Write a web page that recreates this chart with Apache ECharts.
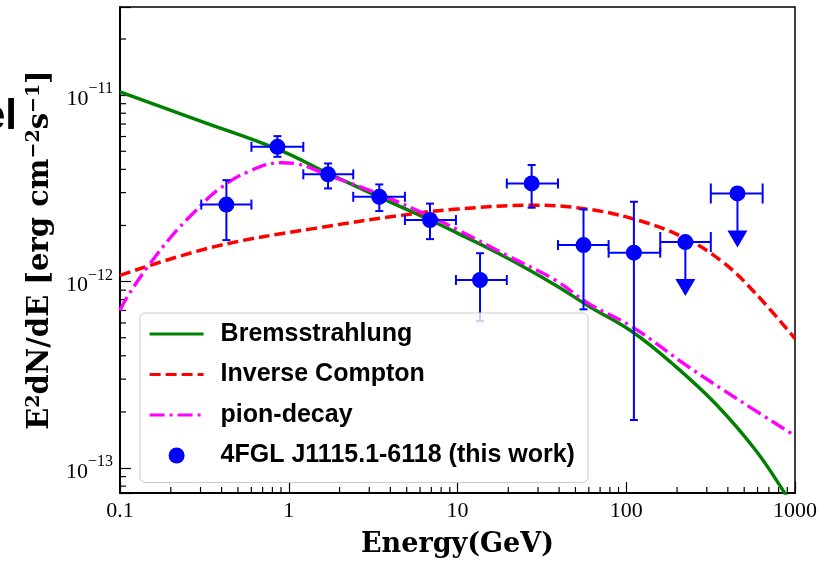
<!DOCTYPE html>
<html>
<head>
<meta charset="utf-8">
<script src="https://cdn.jsdelivr.net/npm/echarts@6/dist/echarts.min.js"></script>
<style>
  html, body { margin: 0; padding: 0; background: #fff; }
  #chart { width: 836px; height: 564px; }
</style>
</head>
<body>
<div id="chart"></div>
<script>
// Fermi-LAT points (GeV, erg cm^-2 s^-1)
var energy = [0.427, 0.857, 1.71, 3.44, 6.87, 13.6, 27.5, 55.8, 111, 224, 456];
var flux = [2.59e-12, 5.28e-12, 3.76e-12, 2.85e-12, 2.14e-12, 1.02e-12, 3.36e-12, 1.57e-12, 1.43e-12, 1.63e-12, 2.97e-12];
var fluxLo = [1.67e-12, 4.67e-12, 3.16e-12, 2.39e-12, 1.69e-12, 6.14e-13, 2.49e-12, 7.10e-13, 1.81e-13, null, null];
var fluxHi = [3.50e-12, 6.03e-12, 4.30e-12, 3.32e-12, 2.62e-12, 1.42e-12, 4.22e-12, 2.44e-12, 2.68e-12, null, null];
var binLo = [0.303, 0.601, 1.22, 2.41, 4.88, 9.79, 19.6, 39.4, 78.6, 159, 317];
var binHi = [0.601, 1.22, 2.41, 4.88, 9.79, 19.6, 39.4, 78.6, 159, 317, 643];
var upperLimit = [0, 0, 0, 0, 0, 0, 0, 0, 0, 1, 1];

// model curves
var bremsE = [0.1, 0.3, 0.864, 1.71, 3.47, 6.87, 10, 19.1, 37.9, 59.7, 108, 187, 337, 583, 859, 1000];
var bremsF = [1.04e-11, 7.26e-12, 5.12e-12, 3.81e-12, 2.83e-12, 2.14e-12, 1.82e-12, 1.36e-12, 9.6e-13, 7.4e-13, 5.4e-13, 3.64e-13, 2.22e-13, 1.25e-13, 7.46e-14, 5.9e-14];
var icE = [0.1, 0.364, 1.43, 5.60, 10, 27.5, 54.6, 108, 214, 370, 583, 1000];
var icF = [1.08e-12, 1.54e-12, 1.93e-12, 2.32e-12, 2.45e-12, 2.57e-12, 2.47e-12, 2.18e-12, 1.74e-12, 1.28e-12, 8.65e-13, 4.95e-13];
var pionE = [0.1, 0.109, 0.146, 0.201, 0.277, 0.380, 0.573, 0.905, 1.085, 1.71, 3.55, 7.03, 10, 19.1, 37.9, 59.7, 108, 234, 464, 1000];
var pionF = [7.0e-13, 8.13e-13, 1.20e-12, 1.74e-12, 2.37e-12, 3.10e-12, 3.88e-12, 4.34e-12, 4.30e-12, 3.72e-12, 2.91e-12, 2.22e-12, 1.90e-12, 1.40e-12, 1.02e-12, 7.64e-13, 5.73e-13, 3.49e-13, 2.32e-13, 1.49e-13];

// axes
var xMin = 0.1, xMax = 1000;
var yMin = 7.35e-14, yMax = 2.97e-11;
var minorMult = [2, 3, 4, 5, 6, 7, 8, 9];
var xDecades = [0.1, 1, 10, 100];
var yDecades = [1e-14, 1e-13, 1e-12, 1e-11];

var BLUE = '#0000ff';
var SERIF = '"Liberation Serif", "DejaVu Serif", serif';
var SERIF_B = '"DejaVu Serif", serif';
var SANS = '"Liberation Sans", Arial, sans-serif';

function zip(a, b) { return a.map(function (v, i) { return [v, b[i]]; }); }

var minorTicks = [];
xDecades.forEach(function (d) { minorMult.forEach(function (m) { minorTicks.push([d * m, 0]); }); });
yDecades.forEach(function (d) {
  minorMult.forEach(function (m) {
    var v = d * m;
    if (v > yMin && v < yMax) minorTicks.push([v, 1]);
  });
});

var pointData = energy.map(function (e, i) {
  return [e, flux[i], binLo[i], binHi[i], fluxLo[i], fluxHi[i], upperLimit[i]];
});

function renderErrors(params, api) {
  var x = api.value(0), y = api.value(1);
  var c = api.coord([x, y]);
  var pl = api.coord([api.value(2), y]);
  var pr = api.coord([api.value(3), y]);
  var st = { stroke: BLUE, lineWidth: 2 };
  var ul = api.value(6) === 1;
  var capH = ul ? 10 : 5;
  var kids = [
    { type: 'line', shape: { x1: pl[0], y1: c[1], x2: pr[0], y2: c[1] }, style: st },
    { type: 'line', shape: { x1: pl[0], y1: c[1] - capH, x2: pl[0], y2: c[1] + capH }, style: st },
    { type: 'line', shape: { x1: pr[0], y1: c[1] - capH, x2: pr[0], y2: c[1] + capH }, style: st }
  ];
  if (ul) {
    var tip = c[1] + 54;
    kids.push({ type: 'line', shape: { x1: c[0], y1: c[1], x2: c[0], y2: tip - 16 }, style: st });
    kids.push({ type: 'polygon', shape: { points: [[c[0] - 10, tip - 17], [c[0] + 10, tip - 17], [c[0], tip]] }, style: { fill: BLUE } });
  } else {
    var pt = api.coord([x, api.value(5)]);
    var pb = api.coord([x, api.value(4)]);
    kids.push({ type: 'line', shape: { x1: c[0], y1: pt[1], x2: c[0], y2: pb[1] }, style: st });
    kids.push({ type: 'line', shape: { x1: c[0] - 4, y1: pt[1], x2: c[0] + 4, y2: pt[1] }, style: st });
    kids.push({ type: 'line', shape: { x1: c[0] - 4, y1: pb[1], x2: c[0] + 4, y2: pb[1] }, style: st });
  }
  return { type: 'group', children: kids };
}

function renderMinor(params, api) {
  var v = api.value(0);
  var st = { stroke: '#000', lineWidth: 1.2 };
  if (api.value(1) === 0) {
    var p = api.coord([v, yMin]);
    return { type: 'line', shape: { x1: p[0], y1: p[1], x2: p[0], y2: p[1] - 6 }, style: st };
  }
  var q = api.coord([xMin, v]);
  return { type: 'line', shape: { x1: q[0], y1: q[1], x2: q[0] + 6, y2: q[1] }, style: st };
}

var noMark = { color: 'rgba(0,0,0,0)', borderWidth: 0 };

var chart = echarts.init(document.getElementById('chart'), null, { renderer: 'canvas' });
chart.setOption({
  animation: false,
  backgroundColor: '#fff',
  grid: {
    left: 120, right: 41, top: 7, bottom: 71,
    show: true, borderColor: '#000', borderWidth: 1.5,
    outerBoundsMode: 'none'
  },
  graphic: [{
    type: 'text', x: 17, y: 117,
    style: { text: 'el', font: 'bold 42px ' + SANS, fill: '#000', align: 'right', verticalAlign: 'middle' }
  }],
  legend: {
    orient: 'vertical',
    left: 140, top: 313,
    padding: [8, 13, 14, 8],
    itemWidth: 54, itemHeight: 16, itemGap: 14.5,
    backgroundColor: 'rgba(255,255,255,0.8)',
    borderColor: '#cccccc', borderWidth: 1, borderRadius: 5,
    textStyle: { fontFamily: SANS, fontWeight: 'bold', fontSize: 25, color: '#000', lineHeight: 26, padding: [0, 0, 0, 12] },
    data: [
      { name: 'Bremsstrahlung', itemStyle: noMark, lineStyle: { width: 3.2 } },
      { name: 'Inverse Compton', itemStyle: noMark, lineStyle: { width: 3.2 } },
      { name: 'pion-decay', itemStyle: noMark, lineStyle: { width: 3.2 } },
      { name: '4FGL J1115.1-6118 (this work)' }
    ],
    z: 10
  },
  xAxis: {
    type: 'log', logBase: 10, min: xMin, max: xMax,
    name: 'Energy(GeV)', nameLocation: 'middle', nameGap: 38,
    nameTextStyle: { fontFamily: SERIF_B, fontWeight: 'bold', fontSize: 27, color: '#000' },
    axisLine: { lineStyle: { color: '#000', width: 2 } },
    axisTick: { inside: true, length: 11, lineStyle: { color: '#000', width: 1.2 } },
    axisLabel: {
      margin: 7, fontFamily: SERIF, fontSize: 22, color: '#000',
      formatter: function (v) {
        var e = Math.log10(v), n = Math.round(e);
        if (Math.abs(e - n) > 1e-6) return '';
        return n < 0 ? '0.1' : String(Math.pow(10, n));
      }
    },
    splitLine: { show: false }
  },
  yAxis: {
    type: 'log', logBase: 10, min: yMin, max: yMax,
    name: '{m|E}{s|2}{m|dN/dE [erg cm}{s|−2}{m|s}{s|−1}{m|]}',
    nameLocation: 'middle', nameGap: 53, nameRotate: 90,
    nameTextStyle: {
      rich: {
        m: { fontFamily: SERIF_B, fontWeight: 'bold', fontSize: 29, color: '#000' },
        s: { fontFamily: SERIF_B, fontWeight: 'bold', fontSize: 19, color: '#000', padding: [0, 0, 13, 0] }
      }
    },
    axisLine: { lineStyle: { color: '#000', width: 2 } },
    axisTick: { inside: true, length: 11, lineStyle: { color: '#000', width: 1.2 } },
    axisLabel: {
      margin: 7, color: '#000',
      formatter: function (v) {
        var e = Math.log10(v), n = Math.round(e);
        if (Math.abs(e - n) > 1e-6) return '';
        return '{b|10}{s|−' + (-n) + '}';
      },
      rich: {
        b: { fontFamily: SERIF, fontSize: 22, color: '#000', padding: [8, 0, 0, 0] },
        s: { fontFamily: SERIF, fontSize: 16, color: '#000', padding: [0, 0, 12, 0] }
      }
    },
    splitLine: { show: false }
  },
  series: [
    {
      name: 'Bremsstrahlung', type: 'line', data: zip(bremsE, bremsF),
      symbol: 'none', smooth: 0.4, clip: true, z: 2,
      lineStyle: { color: '#008000', width: 3.4 }, itemStyle: { color: '#008000' }
    },
    {
      name: 'Inverse Compton', type: 'line', data: zip(icE, icF),
      symbol: 'none', smooth: 0.4, clip: true, z: 2,
      lineStyle: { color: '#ff0000', width: 3.5, type: [11, 5] }, itemStyle: { color: '#ff0000' }
    },
    {
      name: 'pion-decay', type: 'line', data: zip(pionE, pionF),
      symbol: 'none', smooth: 0.4, clip: true, z: 2,
      lineStyle: { color: '#ff00ff', width: 3.4, type: [15, 5, 3, 5] }, itemStyle: { color: '#ff00ff' }
    },
    {
      name: 'minor', type: 'custom', data: minorTicks, renderItem: renderMinor,
      silent: true, z: 1, encode: { x: 0, y: -1 }
    },
    {
      name: 'errors', type: 'custom', data: pointData, renderItem: renderErrors,
      silent: true, z: 3, encode: { x: 0, y: 1 }
    },
    {
      name: '4FGL J1115.1-6118 (this work)', type: 'scatter', data: zip(energy, flux),
      symbol: 'circle', symbolSize: 16, z: 4, itemStyle: { color: BLUE, opacity: 1 }
    }
  ]
});
</script>
</body>
</html>
